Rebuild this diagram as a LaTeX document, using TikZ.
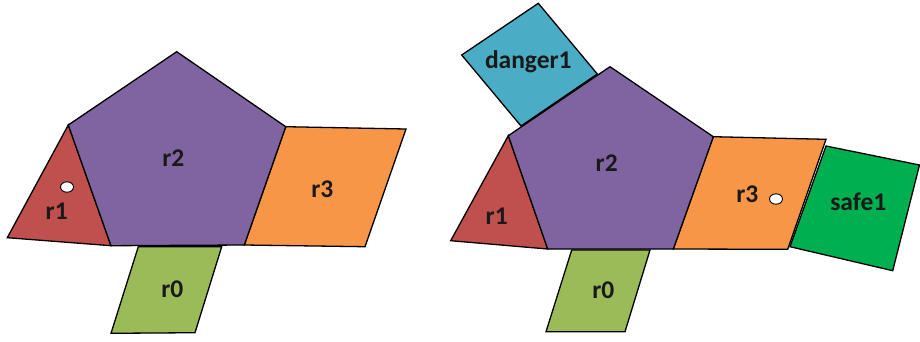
\documentclass[tikz,border=0pt]{standalone}
\usepackage{fontspec}
\setmainfont{Carlito}
\begin{document}
\begin{tikzpicture}[x=1pt,y=-1pt,
  region/.style={draw=black,line width=1.3pt,line join=miter},
  lbl/.style={font=\bfseries\fontsize{25.5}{28}\selectfont,text=black!90,inner sep=0pt},
  shade/.style={fill=black!40!red!30,opacity=0.5},
  dot/.style={draw=black,fill=white,line width=0.9pt}]
\useasboundingbox (0,0) rectangle (920,341);
\definecolor{cred}{HTML}{C0504D}
\definecolor{cpurple}{HTML}{8064A2}
\definecolor{corange}{HTML}{F79646}
\definecolor{cgreen}{HTML}{9BBB59}
\definecolor{cblue}{HTML}{4BACC6}
\definecolor{csafe}{HTML}{00B050}
% ---------- left picture ----------
\coordinate (Lt)  at (176.7,51.7);
\coordinate (Lul) at (68.3,125);
\coordinate (Lur) at (285.7,126.7);
\coordinate (Lbl) at (111,245.7);
\coordinate (Lbr) at (244.3,245);
\coordinate (L1l) at (7.3,237.7);
\coordinate (L3tr) at (406,129);
\coordinate (L3br) at (365,246.7);
\coordinate (L0tl) at (138.3,246.7);
\coordinate (L0tr) at (221.7,246.7);
\coordinate (L0br) at (195,332.7);
\coordinate (L0bl) at (111,333.3);
\begin{scope}[shift={(1.5,2)}]
\fill[shade] (Lul) -- (L1l) -- (Lbl) -- cycle;
\fill[shade] (Lur) -- (L3tr) -- (L3br) -- (Lbr) -- cycle;
\fill[shade] (L0tl) -- (L0tr) -- (L0br) -- (L0bl) -- cycle;
\end{scope}
\filldraw[region,fill=cred] (Lul) -- (L1l) -- (Lbl) -- cycle;
\filldraw[region,fill=corange] (Lur) -- (L3tr) -- (L3br) -- (Lbr) -- cycle;
\filldraw[region,fill=cgreen] (L0tl) -- (L0tr) -- (L0br) -- (L0bl) -- cycle;
\filldraw[region,fill=cpurple] (Lt) -- (Lur) -- (Lbr) -- (Lbl) -- (Lul) -- cycle;
\node[lbl] (l1) at (56.7,211.7) {r1};
\node[lbl] (l2) at (173.3,158.3) {r2};
\node[lbl] (l3) at (322.3,189.3) {r3};
\node[lbl] (l0) at (172.3,289.3) {r0};
\filldraw[dot] (67,187) ellipse [x radius=6.5, y radius=5.2];
% ---------- right picture ----------
\coordinate (Rt)  at (610,66.7);
\coordinate (Rul) at (508.3,135.7);
\coordinate (Rur) at (713.3,136.7);
\coordinate (Rbl) at (547.7,249);
\coordinate (Rbr) at (673.3,249);
\coordinate (R1l) at (450.7,240.7);
\coordinate (R3tr) at (826,139.3);
\coordinate (R3br) at (787.7,249.3);
\coordinate (R0tl) at (571.7,250);
\coordinate (R0tr) at (650,250);
\coordinate (R0br) at (625,331.7);
\coordinate (R0bl) at (546,331.7);
\coordinate (Dt) at (538.3,3.3);
\coordinate (Dl) at (461.7,55);
\coordinate (Db) at (521,126);
\coordinate (Dr) at (597.3,74);
\coordinate (Stl) at (826,146);
\coordinate (Str) at (919.5,165);
\coordinate (Sbr) at (892.7,270.7);
\coordinate (Sbl) at (790,246.7);
\begin{scope}[shift={(1.5,2)}]
\fill[shade] (Rul) -- (R1l) -- (Rbl) -- cycle;
\fill[shade] (Rur) -- (R3tr) -- (R3br) -- (Rbr) -- cycle;
\fill[shade] (R0tl) -- (R0tr) -- (R0br) -- (R0bl) -- cycle;
\fill[shade] (Stl) -- (Str) -- (Sbr) -- (Sbl) -- cycle;
\end{scope}
\filldraw[region,fill=cblue] (Dt) -- (Dr) -- (Db) -- (Dl) -- cycle;
\filldraw[region,fill=csafe] (Stl) -- (Str) -- (Sbr) -- (Sbl) -- cycle;
\filldraw[region,fill=cred] (Rul) -- (R1l) -- (Rbl) -- cycle;
\filldraw[region,fill=corange] (Rur) -- (R3tr) -- (R3br) -- (Rbr) -- cycle;
\filldraw[region,fill=cgreen] (R0tl) -- (R0tr) -- (R0br) -- (R0bl) -- cycle;
\filldraw[region,fill=cpurple] (Rt) -- (Rur) -- (Rbr) -- (Rbl) -- (Rul) -- cycle;
\node[lbl] (d1) at (528.3,61.7) {danger1};
\node[lbl] (s1) at (858.3,201.7) {safe1};
\node[lbl] (m1) at (496.7,216.7) {r1};
\node[lbl] (m2) at (606.7,163.3) {r2};
\node[lbl] (m3) at (747.3,194.3) {r3};
\node[lbl] (m0) at (603.3,290) {r0};
\filldraw[dot] (776,199) ellipse [x radius=6.5, y radius=5.2];
\end{tikzpicture}
\end{document}
